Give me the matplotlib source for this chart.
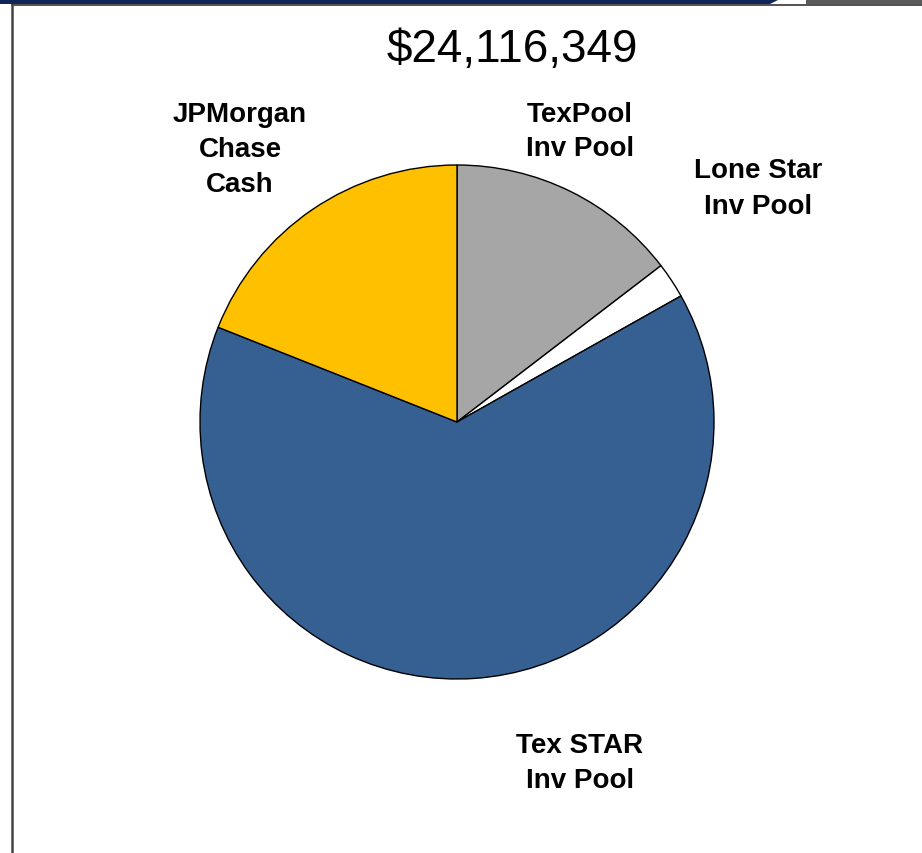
import matplotlib
matplotlib.use("Agg")
import matplotlib.pyplot as plt
from matplotlib.patches import Rectangle, Polygon

# Data (share of total, %), clockwise from 12 o'clock
categories = ["TexPool\nInv Pool", "Lone Star\nInv Pool", "Tex STAR\nInv Pool", "JPMorgan\nChase\nCash"]
values = [14.6, 2.25, 64.2, 19.0]
colors = ["#A6A6A6", "#FFFFFF", "#376092", "#FFC000"]
total_label = "$24,116,349"

W, H = 922, 854
fig = plt.figure(figsize=(W / 100, H / 100), dpi=100)
ax = fig.add_axes([0, 0, 1, 1])
ax.set_xlim(0, W)
ax.set_ylim(0, H)
ax.set_aspect("equal")
ax.axis("off")

def Y(ypx):
    return H - ypx

# frame decorations
ax.add_patch(Rectangle((0, Y(5)), 780, 5, color="#0F2557", lw=0))
ax.add_patch(Polygon([(770, Y(5)), (780, H), (810, H), (806, Y(5))], closed=True, color="#FFFFFF", lw=0))
ax.add_patch(Rectangle((806, Y(5)), W - 806, 5, color="#5A5A5A", lw=0))
ax.plot([12, W], [Y(6), Y(6)], color="#333333", lw=1.2)
ax.plot([12, 12], [0, Y(6)], color="#444444", lw=1.8)

ax.pie(values, colors=colors, startangle=90, counterclock=False,
       center=(457, Y(423)), radius=257,
       wedgeprops=dict(edgecolor="black", linewidth=1.0))
ax.set_xlim(0, W)
ax.set_ylim(0, H)

ax.text(512, Y(50), total_label, ha="center", va="center",
        fontsize=33, family="Liberation Sans", color="black")

label_pos = [(580, Y(132)), (758, Y(189)), (580, Y(764)), (240, Y(150))]
for lab, (x, y) in zip(categories, label_pos):
    ax.text(x, y, lab, ha="center", va="center", fontsize=20, fontweight="bold",
            family="Liberation Sans", linespacing=1.45, color="black")

fig.savefig("out.png", dpi=100)
